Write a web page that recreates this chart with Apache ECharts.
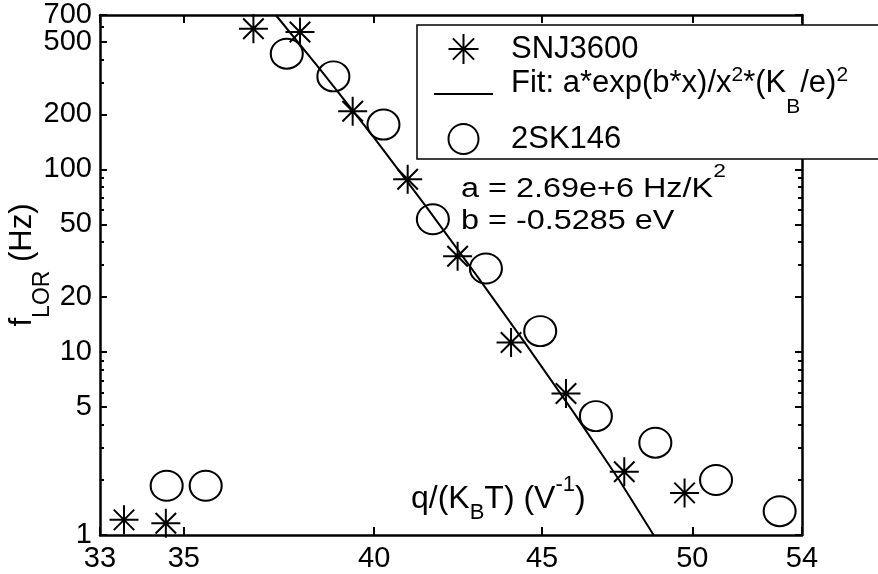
<!DOCTYPE html>
<html>
<head>
<meta charset="utf-8">
<script src="https://cdn.jsdelivr.net/npm/echarts@6/dist/echarts.min.js"></script>
<style>
html, body { margin: 0; padding: 0; background: #fff; }
#chart { width: 878px; height: 574px; }
</style>
</head>
<body>
<div id="chart"></div>
<script>
// 数据  x = q/(KB T) in 1/V, y = f_LOR in Hz
var SNJ_X = [33.56, 34.56, 36.75, 37.97, 39.40, 40.95, 42.41, 44.03, 45.76, 47.67, 49.73]
var SNJ_Y = [1.21, 1.16, 589, 565, 208, 88.4, 33.5, 11.3, 5.95, 2.22, 1.70]
var SK_X = [34.58, 35.54, 37.62, 38.87, 40.26, 41.68, 43.26, 44.94, 46.73, 48.72, 50.84, 53.16]
var SK_Y = [1.86, 1.86, 430, 323, 176, 53.4, 28.7, 13.05, 4.47, 3.20, 2.00, 1.35]
// fit curve
var FIT_X = [37.33, 38.5, 40, 41.5, 43, 44.5, 46, 47.5, 48.66]
var FIT_Y = [700, 355, 149, 62, 26, 11, 4.7, 2.0, 1.0]
// ticks
var X_TICKS = [33, 35, 40, 45, 50, 54]
var Y_TICKS = [1, 5, 10, 20, 50, 100, 200, 500, 700]
var Y_MINOR = [2, 3, 4, 6, 7, 8, 9, 30, 40, 60, 70, 80, 90, 300, 400, 600]

var FONT = '"Liberation Sans", Arial, Helvetica, sans-serif'
var lg = function (v) { return Math.log10(v) }
var fmt = function (v) { return String(Math.round(Math.pow(10, v))) }
function pairs(xs, ys) {
    return xs.map(function (x, i) { return [lg(x), lg(ys[i])] })
}

var chart = echarts.init(document.getElementById('chart'))
// 米字形 marker
var STAR = 'path://M0,-10L0,10M-10,0L10,0M-7.07,-7.07L7.07,7.07M-7.07,7.07L7.07,-7.07'

// 坐标轴 (log axes drawn as value axes on log10 values)
function axis(pos, lo, hi, ticks, len, showLine, labels) {
    return {
        type: 'value',
        position: pos,
        min: lg(lo),
        max: lg(hi),
        axisLine: { show: showLine, onZero: false, lineStyle: { color: '#000', width: 2.5 } },
        splitLine: { show: false },
        axisTick: {
            show: true,
            inside: true,
            length: len,
            customValues: ticks.map(lg),
            lineStyle: { color: '#000', width: 2 }
        },
        axisLabel: {
            show: !!labels,
            customValues: (labels || ticks).map(lg),
            showMinLabel: true,
            showMaxLabel: true,
            hideOverlap: false,
            formatter: fmt,
            color: '#000',
            fontFamily: FONT,
            fontSize: 29,
            margin: pos === 'left' ? 8 : 9
        }
    }
}

var legendRich = {
    p: { fontFamily: FONT, fontSize: 31, lineHeight: 34, color: '#000', padding: [0, 0, 0, 13] },
    f: { fontFamily: FONT, fontSize: 31, lineHeight: 31, color: '#000', padding: [8.5, 0, 30.5, 13] },
    m: { fontFamily: FONT, fontSize: 31, lineHeight: 31, color: '#000', padding: [8.5, 0, 30.5, 0] },
    sp: { fontFamily: FONT, fontSize: 21, lineHeight: 21, color: '#000', padding: [5.5, 0, 43.5, 0] },
    sb: { fontFamily: FONT, fontSize: 21, lineHeight: 21, color: '#000', padding: [37.5, 0, 11.5, 0] }
}

option = {
    backgroundColor: '#fff',
    animation: false,
    grid: { left: 100, right: 76, top: 15, bottom: 39, containLabel: false, outerBoundsMode: 'none' },
    xAxis: [
        axis('bottom', 33, 54, X_TICKS, 8, true, X_TICKS),
        axis('top', 33, 54, X_TICKS, 8, true, null)
    ],
    yAxis: [
        // 700 sits too close to 500, so it gets its own axis
        axis('left', 1, 700, Y_TICKS, 7, true, Y_TICKS.slice(0, -1)),
        axis('left', 1, 700, Y_MINOR, 4, false, Y_TICKS.slice(-1)),
        axis('right', 1, 700, Y_TICKS, 7, true, null),
        axis('right', 1, 700, Y_MINOR, 4, false, null)
    ],
    legend: {
        orient: 'vertical',
        left: 417,
        top: 25,
        backgroundColor: '#fff',
        borderColor: '#000',
        borderWidth: 1.5,
        padding: [8, 80, 4, 16],
        itemGap: -6,
        itemWidth: 59,
        itemHeight: 30,
        data: [
            'SNJ3600',
            { name: 'Fit', itemStyle: { opacity: 0 } },
            '2SK146'
        ],
        formatter: function (name) {
            if (name === 'Fit') {
                return '{f|Fit: a*exp(b*x)/x}{sp|2}{m|*(K}{sb|B}{m|/e)}{sp|2}'
            }
            return '{p|' + name + '}'
        },
        textStyle: { color: '#000', fontFamily: FONT, fontSize: 31, rich: legendRich }
    },
    graphic: [
        {
            type: 'text',
            x: 461,
            y: 170,
            scaleX: 1.2,
            style: {
                text: '{n|a = 2.69e+6 Hz/K}{s|2}',
                align: 'left',
                verticalAlign: 'top',
                fill: '#000',
                rich: {
                    n: { fontFamily: FONT, fontSize: 27, lineHeight: 27, fill: '#000', padding: [14.5, 0, 2.5, 0] },
                    s: { fontFamily: FONT, fontSize: 19, lineHeight: 19, fill: '#000', padding: [0.5, 0, 24.5, 0] }
                }
            }
        },
        {
            type: 'text',
            x: 461,
            y: 222,
            scaleX: 1.2,
            style: {
                text: 'b = -0.5285 eV',
                align: 'left',
                verticalAlign: 'middle',
                fill: '#000',
                fontFamily: FONT,
                fontSize: 27
            }
        },
        {
            // x 轴标题
            type: 'text',
            x: 411,
            y: 483,
            style: {
                text: '{n|q/(K}{sb|B}{n|T) (V}{sp|-1}{n|)}',
                align: 'left',
                verticalAlign: 'top',
                fill: '#000',
                rich: {
                    n: { fontFamily: FONT, fontSize: 32, lineHeight: 32, fill: '#000', padding: [10, 0, 10, 0] },
                    sp: { fontFamily: FONT, fontSize: 22, lineHeight: 22, fill: '#000', padding: [1, 0, 29, 0] },
                    sb: { fontFamily: FONT, fontSize: 22, lineHeight: 22, fill: '#000', padding: [29, 0, 1, 0] }
                }
            }
        },
        {
            // y 轴标题
            type: 'text',
            x: 14,
            y: 265,
            rotation: Math.PI / 2,
            style: {
                text: '{n|f}{sb|LOR}{n| (Hz)}',
                align: 'center',
                verticalAlign: 'top',
                fill: '#000',
                rich: {
                    n: { fontFamily: FONT, fontSize: 31, lineHeight: 31, fill: '#000', padding: [1.5, 0, 16, 0] },
                    sb: { fontFamily: FONT, fontSize: 23, lineHeight: 23, fill: '#000', padding: [25.5, 0, 0, 0] }
                }
            }
        }
    ],
    series: [
        {
            name: 'Fit',
            type: 'line',
            symbol: 'none',
            showSymbol: false,
            lineStyle: { color: '#000', width: 2 },
            itemStyle: { color: '#000' },
            data: pairs(FIT_X, FIT_Y)
        },
        {
            name: 'SNJ3600',
            type: 'scatter',
            symbol: STAR,
            symbolSize: 29,
            clip: false,
            itemStyle: { color: '#000', borderColor: '#000', borderWidth: 2, opacity: 1 },
            data: pairs(SNJ_X, SNJ_Y)
        },
        {
            name: '2SK146',
            type: 'scatter',
            symbol: 'circle',
            symbolSize: [32, 30],
            clip: false,
            itemStyle: { color: 'rgba(0,0,0,0)', borderColor: '#000', borderWidth: 2, opacity: 1 },
            data: pairs(SK_X, SK_Y)
        }
    ]
}
chart.setOption(option)
</script>
</body>
</html>
